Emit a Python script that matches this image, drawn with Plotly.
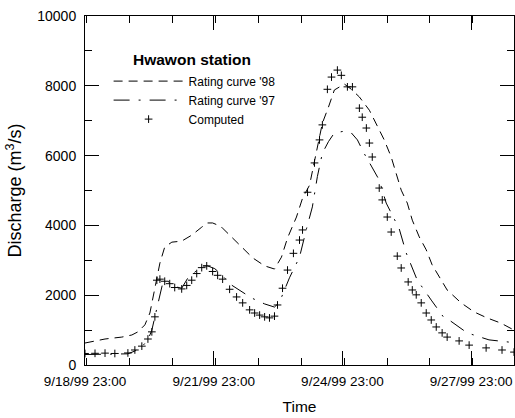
import pandas as pd
import plotly.graph_objects as go

t0 = pd.Timestamp("1999-09-18 23:00")

# hours since 9/18/99 23:00 and discharge (m3/s)
comp_h = [0, 5.6, 11.2, 16.7, 24, 27.9, 31.8, 35.2, 37.4, 39.1, 40.2, 41.9, 44.6, 47.4,
          50.2, 54.1, 56.9, 59.7, 62.5, 65.3, 68.1, 71.4, 74.2, 77.0, 80.9, 84.8, 88.2,
          92.1, 94.9, 97.7, 100.5, 103.2, 106, 107.7, 110.5, 113.3, 116.6, 120, 121.7,
          124.5, 128.4, 131.2, 132.8, 135.6, 137.9, 141.2, 143.4, 146.8, 149.6, 153.5,
          155.1, 157.4, 159.1, 160.7, 164.6, 166.3, 169.1, 171.3, 174.7, 176.9, 180.8,
          183.1, 185.3, 188.1, 190.9, 193.7, 196.5, 199.8, 202.6, 209.3, 214.9, 224.4,
          233.3, 240]
comp_q = [330, 335, 340, 330, 345, 430, 540, 745, 950, 1380, 2430, 2460, 2400, 2330,
          2220, 2180, 2280, 2430, 2620, 2790, 2840, 2680, 2570, 2460, 2170, 1950, 1780,
          1580, 1490, 1430, 1380, 1350, 1400, 1720, 2200, 2720, 3200, 3580, 3870,
          4950, 5790, 6450, 6880, 7900, 8250, 8450, 8300, 7970, 7970, 7360,
          7100, 6790, 6360, 5960, 5070, 4730, 4240, 3810, 3120, 2780, 2380,
          2150, 2010, 1780, 1490, 1290, 1090, 920, 800, 690, 570, 490,
          430, 370]

r98_h = [0, 11.2, 20.6, 26.2, 29.6, 33.5, 36.3, 39.1, 41.9, 44.6, 48.6, 54.1, 59.7, 65.3,
         68.6, 71.4, 74.2, 77.0, 82.6, 88.2, 93.8, 100.5, 106, 109.9, 113.3, 118.3, 121.7,
         125.6, 128.4, 132.8, 136.2, 139.5, 145.1, 149, 153.5, 159.1, 163.5, 167.4, 171.3,
         174.1, 176.9, 180.3, 183.1, 187, 190.9, 194.2, 198.1, 202.6, 210.4, 217.7, 224.9,
         232.7, 240]
r98_q = [630, 745, 800, 860, 950, 1150, 1490, 2240, 2920, 3380, 3520, 3550, 3720, 3950,
         4070, 4070, 4010, 3920, 3640, 3350, 3070, 2840, 2750, 3090, 3640, 4240, 4780,
         5150, 5870, 6930, 7390, 7880, 8050, 7900, 7680, 7300, 6850, 6450, 5960,
         5500, 5010, 4640, 4150, 3670, 3300, 2870, 2520, 2150, 1780, 1520, 1350,
         1200, 1000]

r97_h = [0, 11.2, 24, 27.9, 31.8, 35.2, 37.4, 39.1, 41.3, 43.5, 45.8, 50.2, 54.1, 57.5,
         61.4, 65.9, 68.6, 72.6, 75.3, 82, 93.2, 100.5, 106, 108.8, 114.4, 120, 123.9,
         127.2, 130, 132.8, 136.2, 139.5, 145.1, 149, 152.4, 156.3, 160.2, 164.6, 168.5,
         175.8, 179.7, 185.8, 193.7, 200.9, 203.7, 213.8, 226, 237.2, 240]
r97_q = [300, 310, 320, 400, 520, 720, 1000, 1380, 1900, 2350, 2420, 2250, 2200, 2490,
         2660, 2840, 2840, 2760, 2640, 2290, 1920, 1750, 1660, 1800, 2500, 3090, 3900,
         4530, 5400, 6070, 6400, 6650, 6700, 6650, 6450, 6050, 5700, 5300, 4640,
         3900, 3210, 2440, 1860, 1350, 1290, 920, 720, 660, 640]

legend_title = "Hwawon station"
names = ["Rating curve '98", "Rating curve '97", "Computed"]


def to_t(hours):
    return t0 + pd.to_timedelta(hours, unit="h")


FONT = "Liberation Sans, Arial, sans-serif"

fig = go.Figure()
fig.add_trace(go.Scatter(x=to_t(r98_h), y=r98_q, mode="lines", name=names[0],
                         line=dict(color="black", width=1, dash="9px,6px")))
fig.add_trace(go.Scatter(x=to_t(r97_h), y=r97_q, mode="lines", name=names[1],
                         line=dict(color="black", width=1, dash="16px,9px,2px,9px")))
fig.add_trace(go.Scatter(x=to_t(comp_h), y=comp_q, mode="markers", name=names[2],
                         marker=dict(symbol="cross-thin", size=5.5, color="black",
                                     line=dict(color="black", width=1))))

fig.update_layout(
    width=515, height=418,
    margin=dict(l=85, r=1, t=16, b=53),
    paper_bgcolor="white", plot_bgcolor="white",
    font=dict(family=FONT, color="black", size=14),
    showlegend=True,
    legend=dict(x=0.055, y=0.855, xanchor="left", yanchor="top",
                bgcolor="rgba(0,0,0,0)", font=dict(size=12), itemwidth=70,
                tracegroupgap=0),
    annotations=[dict(text="<b>" + legend_title + "</b>", xref="paper", yref="paper",
                      x=(192 - 85) / 429, y=(365 - 60) / 349, showarrow=False,
                      font=dict(size=15.5, family=FONT), xanchor="center", yanchor="middle")],
)

fig.update_xaxes(
    type="date",
    range=[t0, t0 + pd.Timedelta(days=10)],
    tick0=t0, dtick=3 * 86400000, tickformat="%-m/%-d/%y %H:%M",
    ticks="inside", ticklen=14, tickwidth=1, tickcolor="black",
    minor=dict(dtick=86400000, ticks="inside", ticklen=7, tickwidth=1, tickcolor="black"),
    showline=True, linecolor="black", linewidth=1, mirror="ticks",
    showgrid=False, zeroline=False,
    tickfont=dict(size=13.5), ticklabelstandoff=4,
    title=dict(text="Time", font=dict(size=15.5), standoff=12),
)
fig.update_yaxes(
    range=[0, 10000], dtick=2000, tickformat="d",
    ticks="inside", ticklen=14, tickwidth=1, tickcolor="black",
    minor=dict(dtick=1000, ticks="inside", ticklen=7, tickwidth=1, tickcolor="black"),
    showline=True, linecolor="black", linewidth=1, mirror="ticks",
    showgrid=False, zeroline=False,
    tickfont=dict(size=14), ticklabelstandoff=5,
    title=dict(text="Discharge (m<sup>3</sup>/s)", font=dict(size=18), standoff=10),
)

fig.write_html("out.html")
